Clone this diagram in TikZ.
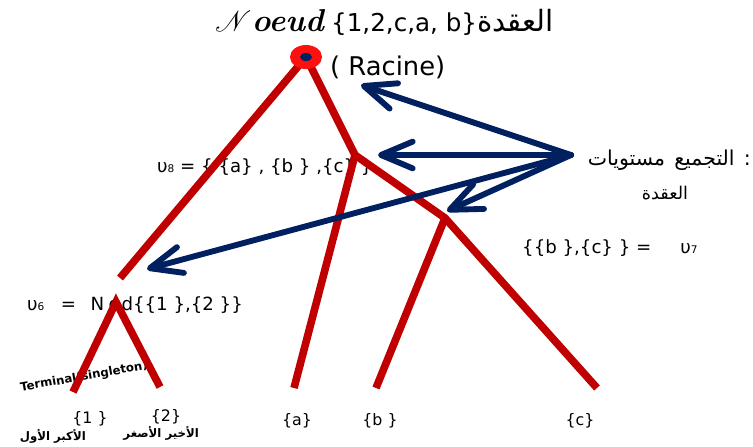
\documentclass[tikz,border=0pt]{standalone}
\usepackage{fontspec}
\usepackage{mathrsfs}
\usetikzlibrary{arrows.meta}
\setmainfont{DejaVu Sans}
\newfontfamily\arabicfont[Script=Arabic]{DejaVu Sans}
\newfontfamily\lmfont{Latin Modern Roman}
\TeXXeTstate=1
\definecolor{treered}{HTML}{C00000}
\definecolor{rootred}{HTML}{FF1010}
\definecolor{arrownavy}{HTML}{002060}

\tikzset{
  branch/.style={treered, line width=6.5pt},
  pointer/.style={arrownavy, line width=5pt, line cap=round,
    -{Straight Barb[length=0.95cm, width=0.8cm, round]}},
  lbl/.style={inner sep=0pt, font=\fontsize{15.5}{18}\selectfont},
  leaflbl/.style={inner sep=0pt, font=\fontsize{13.5}{15}\selectfont},
  rang/.style={inner sep=0pt, font=\fontsize{10}{11}\selectfont\bfseries\arabicfont},
}

\begin{document}
\begin{tikzpicture}[x=0.03cm, y=-0.03cm]
\useasboundingbox (0,0) rectangle (753,446);

% titre et racine
\node[inner sep=0pt, anchor=base west, font=\fontsize{21}{25}\selectfont] (titre) at (215,31)
  {{\lmfont\fontsize{27}{30}\selectfont\bfseries\itshape$\mathscr{N}$oeud}\hspace{0.3em}\{1,2,c,a, b\}{\arabicfont\fontsize{25}{28}\selectfont\beginR العقدة\endR}};
\node[inner sep=0pt, anchor=west, font=\fontsize{22}{26}\selectfont] (racinelbl) at (330,67) {( Racine)};

% etiquettes des niveaux
\node[lbl, anchor=west] (v8) at (157,167) {υ{\small 8} = \{ \{a\} , \{b \} ,\{c\} \}};
\node[lbl, anchor=west] (v7) at (522,248) {\{\{b \},\{c\} \} =\hspace{1.6em}υ{\small 7}};
\node[lbl, anchor=west] (v6) at (27,305) {υ{\small 6}\hspace{0.9em}=\hspace{0.8em}N\hspace{0.25em}o\hspace{0.1em}d\{\{1 \},\{2 \}\}};
\node[lbl, anchor=east, font=\fontsize{17.5}{20}\selectfont\arabicfont] (niveaux) at (751,160)
  {\beginR :\hspace{0.45em}التجميع\hspace{0.45em}مستويات\endR};
\node[lbl, font=\fontsize{15}{18}\selectfont\arabicfont] (niveaux2) at (665,193) {\beginR العقدة\endR};
\node[inner sep=0pt, rotate=10, font=\fontsize{10}{11}\selectfont\bfseries] (terminal) at (84,377) {Terminal(singleton)};

% feuilles
\node[leaflbl] (f1) at (90,419) {\{1 \}};
\node[leaflbl] (f2) at (166,417) {\{2\}};
\node[leaflbl] (fa) at (297,421) {\{a\}};
\node[leaflbl] (fb) at (380,421) {\{b \}};
\node[leaflbl] (fc) at (580,421) {\{c\}};
\node[rang, anchor=east] (r1) at (86,436) {\beginR الأكبر الأول\endR};
\node[rang, anchor=east] (r2) at (199,433) {\beginR الأخير الأصغر\endR};

% arbre
\coordinate (racine) at (306,57);
\coordinate (n8) at (355,155);
\coordinate (n7) at (445,218);
\coordinate (n6) at (116,302);
\coordinate (gauche) at (120,278);
\coordinate (la) at (294,388);
\coordinate (lb) at (376,388);
\coordinate (lc) at (597,388);
\coordinate (l1) at (73,392);
\coordinate (l2) at (160,387);
\draw[branch] (gauche) -- (racine) -- (n8) -- (n7) -- (lc);
\draw[branch] (n8) -- (la);
\draw[branch] (n7) -- (lb);
\draw[branch, miter limit=10] (l1) -- (n6) -- (l2);
\fill[rootred] (racine) ellipse[x radius=16, y radius=12];
\fill[arrownavy] (racine) ellipse[x radius=6, y radius=4];

% fleches
\coordinate (src) at (571,155);
\coordinate (tr) at (361,85);
\coordinate (t8) at (378,155);
\coordinate (t7) at (447,211);
\coordinate (t6) at (147,269);
\foreach \t in {tr,t8,t7,t6}
  \draw[pointer] (src) -- (\t);
\end{tikzpicture}
\end{document}
